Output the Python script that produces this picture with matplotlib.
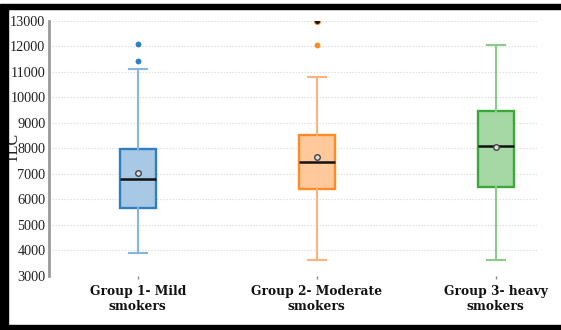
import matplotlib
matplotlib.use("Agg")
import matplotlib.pyplot as plt
from matplotlib.patches import Rectangle

categories = ["Group 1- Mild\nsmokers", "Group 2- Moderate\nsmokers", "Group 3- heavy\nsmokers"]
q1 = [5650, 6390, 6490]
med = [6780, 7470, 8090]
q3 = [7950, 8520, 9470]
whislo = [3880, 3610, 3610]
whishi = [11100, 10800, 12050]
means = [7040, 7670, 8030]
fliers = [[11400, 12100], [12050, 13000], []]
dark_fliers = [[], [13000], []]
yticks = [3000, 4000, 5000, 6000, 7000, 8000, 9000, 10000, 11000, 12000, 13000]

edge_colors = ["#2f7fc1", "#ff8a26", "#3aa83a"]
fill_colors = ["#a8c9e5", "#ffc99c", "#a6d8a5"]
whisk_colors = ["#86b6dd", "#ffb27a", "#8ccc8a"]

fig = plt.figure(figsize=(5.61, 3.30), dpi=100)
ax = fig.add_axes([49/561, 1-275.7/330, (538-49)/561, (275.7-20.7)/330])

stats = []
for i in range(3):
    stats.append(dict(med=med[i], q1=q1[i], q3=q3[i], whislo=whislo[i],
                      whishi=whishi[i], fliers=fliers[i], mean=means[i]))

for i in range(3):
    ax.bxp([stats[i]], positions=[i], widths=0.2, patch_artist=True,
           showmeans=True, manage_ticks=False,
           boxprops=dict(facecolor=fill_colors[i], edgecolor=edge_colors[i], linewidth=1.7),
           whiskerprops=dict(color=whisk_colors[i], linewidth=1.5),
           capprops=dict(color=whisk_colors[i], linewidth=1.5),
           medianprops=dict(color="#111111", linewidth=1.8),
           meanprops=dict(marker="o", markerfacecolor="#dddddd", markeredgecolor="#444444",
                          markersize=4, markeredgewidth=1),
           flierprops=dict(marker="o", markerfacecolor=edge_colors[i], markeredgecolor="none",
                           markersize=4.2))
    if dark_fliers[i]:
        ax.plot([i]*len(dark_fliers[i]), dark_fliers[i], "o", color="#1a1a1a",
                markeredgecolor=edge_colors[i], markeredgewidth=0.6, markersize=4.4, zorder=5)

ax.set_xlim(-0.496, 2.236)
ax.set_ylim(3000, 13000)
ax.set_yticks(yticks)
ax.set_yticklabels([str(t) for t in yticks], family="Liberation Serif", fontsize=10.3, color="#222222")
ax.set_xticks(range(3))
ax.set_xticklabels(categories, family="DejaVu Serif", fontweight="bold", fontsize=8.8,
                   color="#111111", linespacing=1.2)
ax.tick_params(axis="y", length=0, pad=2.5)
ax.tick_params(axis="x", length=2.5, color="#888888", width=1, pad=4)
ax.grid(axis="y", color="#e0e0e0", linestyle=(0, (1.2, 1.2)), linewidth=0.9)
ax.set_axisbelow(True)
for s in ["top", "right", "bottom"]:
    ax.spines[s].set_visible(False)
ax.spines["left"].set_color("#9a9a9a")
ax.spines["left"].set_linewidth(2)
ax.set_ylabel("TLC", family="Liberation Serif", fontsize=11.5, color="#222222")
ax.yaxis.set_label_coords(-0.055, 0.5)

# outer frame bands
W, H = 561, 330
fig.patches.append(Rectangle((0, 0), 8/W, 1 - 4.5/H, transform=fig.transFigure, color="black", zorder=10))
fig.patches.append(Rectangle((0, 1 - 9/H), 1, 4.5/H, transform=fig.transFigure, color="black", zorder=10))
fig.patches.append(Rectangle((0, 0), 1, 5/H, transform=fig.transFigure, color="black", zorder=10))

fig.savefig("out.png", dpi=100)
